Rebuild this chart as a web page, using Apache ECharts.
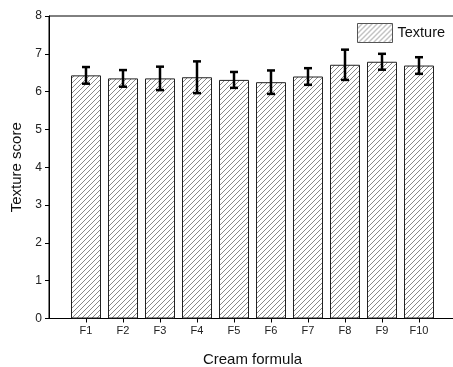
<!DOCTYPE html>
<html>
<head>
<meta charset="utf-8">
<script src="https://cdn.jsdelivr.net/npm/echarts@6/dist/echarts.min.js"></script>
<style>
  html, body { margin: 0; padding: 0; background: #fff; }
  #chart { width: 453px; height: 367px; }
</style>
</head>
<body>
<div id="chart"></div>
<script>
// cream formulas and their texture scores (mean, sd)
const formulas = ['F1', 'F2', 'F3', 'F4', 'F5', 'F6', 'F7', 'F8', 'F9', 'F10']
const textureMean = [6.43, 6.35, 6.35, 6.38, 6.31, 6.25, 6.40, 6.71, 6.79, 6.69]
const textureSd = [0.22, 0.22, 0.31, 0.42, 0.21, 0.31, 0.22, 0.40, 0.21, 0.22]
const xTicks = [1, 2, 3, 4, 5, 6, 7, 8, 9, 10]

// diagonal hatch fill
function hatch() {
  const c = document.createElement('canvas')
  c.width = 5
  c.height = 5
  const ctx = c.getContext('2d')
  ctx.fillStyle = '#fff'
  ctx.fillRect(0, 0, 5, 5)
  ctx.strokeStyle = '#7a7a7a'
  ctx.lineWidth = 0.9
  ctx.beginPath()
  ctx.moveTo(-1, 6); ctx.lineTo(6, -1)
  ctx.moveTo(-1, 1); ctx.lineTo(1, -1)
  ctx.moveTo(4, 6); ctx.lineTo(6, 4)
  ctx.stroke()
  return c
}
const pattern = { image: hatch(), repeat: 'repeat' }

const font = 'Liberation Sans, Arial, sans-serif'
const chart = echarts.init(document.getElementById('chart'), null, { renderer: 'canvas' })

const option = {
  animation: false,
  backgroundColor: '#fff',
  textStyle: { fontFamily: font },
  grid: {
    left: 49, top: 16, width: 407, height: 302.5,
    outerBoundsMode: 'none', containLabel: false,
    show: true, borderColor: '#000', borderWidth: 1, backgroundColor: 'transparent'
  },
  legend: {
    left: 357, top: 23, padding: 0,
    itemWidth: 35, itemHeight: 19, itemGap: 4,
    textStyle: { fontSize: 14.5, color: '#111', fontFamily: font },
    data: [{ name: 'Texture', icon: 'rect', itemStyle: { borderColor: '#555', borderWidth: 1 } }]
  },
  xAxis: {
    type: 'value', min: 0, max: 11, interval: 1,
    name: 'Cream formula', nameLocation: 'middle', nameGap: 34,
    nameTextStyle: { fontSize: 15, color: '#111', fontFamily: font },
    axisLine: { lineStyle: { color: '#000', width: 1 } },
    axisTick: { show: true, length: 4, lineStyle: { color: '#000' }, customValues: xTicks },
    axisLabel: {
      fontSize: 11, color: '#222', margin: 7, customValues: xTicks,
      formatter: v => formulas[v - 1] || ''
    },
    splitLine: { show: false }
  },
  yAxis: {
    type: 'value', min: 0, max: 8, interval: 1,
    name: 'Texture score', nameLocation: 'middle', nameGap: 25,
    nameTextStyle: { fontSize: 15, color: '#111', fontFamily: font },
    axisLine: { show: true, lineStyle: { color: '#000', width: 1 } },
    axisTick: { show: true, length: 4, lineStyle: { color: '#000' } },
    axisLabel: { fontSize: 12, color: '#222', margin: 7 },
    splitLine: { show: false }
  },
  series: [
    {
      name: 'Texture',
      type: 'bar',
      barWidth: 30,
      data: textureMean.map((v, i) => [i + 1, v]),
      itemStyle: { color: pattern, borderColor: '#222', borderWidth: 1 }
    },
    {
      name: 'err',
      type: 'custom',
      z: 5,
      data: textureMean.map((v, i) => [i + 1, v - textureSd[i], v + textureSd[i]]),
      renderItem(params, api) {
        const lo = api.coord([api.value(0), api.value(1)])
        const hi = api.coord([api.value(0), api.value(2)])
        const w = 4
        const style = { stroke: '#000', lineWidth: 2.5 }
        return {
          type: 'group',
          children: [
            { type: 'line', shape: { x1: lo[0], y1: lo[1], x2: hi[0], y2: hi[1] }, style },
            { type: 'line', shape: { x1: lo[0] - w, y1: lo[1], x2: lo[0] + w, y2: lo[1] }, style },
            { type: 'line', shape: { x1: hi[0] - w, y1: hi[1], x2: hi[0] + w, y2: hi[1] }, style }
          ]
        }
      }
    }
  ]
}

chart.setOption(option)
</script>
</body>
</html>
